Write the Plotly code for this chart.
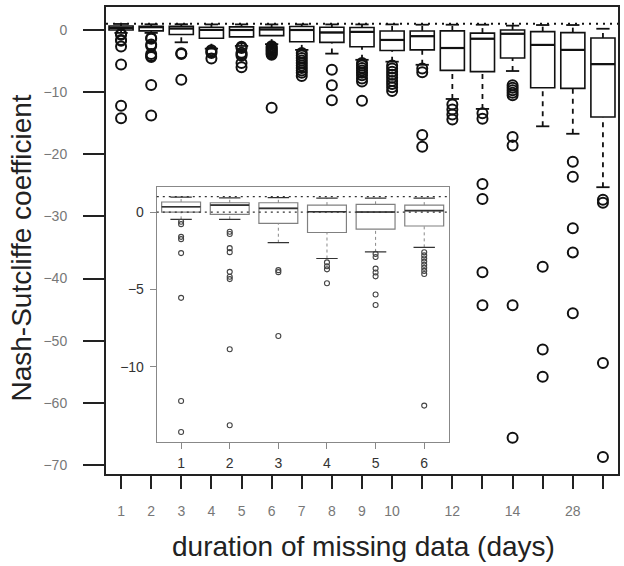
import plotly.graph_objects as go

# Gap-length categories (some labels are left blank on the axis)
positions = list(range(1, 18))
tick_labels = ["1", "2", "3", "4", "5", "6", "7", "8", "9", "10",
               "", "12", "", "14", "", "28", ""]

# Box statistics of the Nash-Sutcliffe coefficient per gap length
upper_whisker = [0.97, 0.92, 0.93, 0.90, 0.90, 0.90, 0.90, 0.90, 0.90, 0.90,
                 0.85, 0.85, 0.85, 0.70, 0.80, 0.80, 0.20]
q3 = [0.65, 0.60, 0.60, 0.45, 0.50, 0.45, 0.55, 0.45, 0.40, -0.16,
      -0.16, -0.15, -0.50, 0.00, -0.27, -0.43, -1.30]
median = [0.34, 0.45, 0.24, 0.02, 0.00, 0.09, 0.00, -0.40, -0.30, -1.60,
          -1.00, -2.90, -1.40, -0.60, -2.40, -3.20, -5.50]
q1 = [0.00, -0.15, -0.73, -1.32, -1.10, -0.90, -1.90, -2.00, -2.70, -3.30,
      -3.20, -6.50, -6.70, -4.50, -9.30, -9.40, -14.00]
lower_whisker = [-0.47, -0.47, -1.98, -3.00, -2.57, -2.28, -3.20, -3.80, -4.80, -5.10,
                 -5.60, -11.10, -12.70, -6.60, -15.50, -16.70, -25.30]
outliers = [
    [-0.63, -0.78, -1.60, -1.75, -2.65, -5.54, -12.2, -14.2],
    [-1.27, -1.42, -2.33, -2.59, -3.86, -4.18, -4.33, -8.86, -13.77],
    [-3.75, -3.88, -8.00],
    [-3.25, -3.50, -3.70, -4.60],
    [-2.70, -2.90, -3.65, -3.90, -4.15, -5.32, -6.00],
    [-2.60, -2.80, -3.00, -3.20, -3.40, -3.60, -3.80, -4.00, -12.5],
    [-3.7, -4.1, -4.5, -4.9, -5.3, -5.7, -6.1, -6.5, -6.9, -7.4],
    [-6.4, -8.9, -11.3],
    [-5.3, -5.7, -6.1, -6.5, -6.9, -7.3, -7.8, -8.3, -11.4],
    [-5.7, -6.2, -6.7, -7.2, -7.7, -8.2, -8.7, -9.2, -9.8],
    [-6.2, -6.8, -16.9, -18.8],
    [-12.0, -12.8, -13.6, -14.4],
    [-13.4, -14.3, -24.8, -27.2, -39.0, -44.3],
    [-8.9, -9.3, -9.7, -10.1, -10.5, -17.2, -18.6, -44.3, -65.6],
    [-38.1, -51.4, -55.8],
    [-21.2, -23.6, -31.9, -35.8, -45.6],
    [-27.3, -27.8, -53.6, -68.7],
]

main_yticks = [0, -10, -20, -30, -40, -50, -60, -70]
inset_count = 6
inset_yticks = [0, -5, -10]
main_ref_levels = [1.0]
inset_ref_levels = [1.0, 0.0]

FONT = "Liberation Sans, Arial, sans-serif"


def whisker_segments(xs, lo, lower_q, upper_q, hi):
    px, py = [], []
    for x, a, b, c, d in zip(xs, lo, lower_q, upper_q, hi):
        px += [x, x, None, x, x, None]
        py += [a, b, None, c, d, None]
    return px, py


def horizontal_ticks(xs, values_list, half):
    px, py = [], []
    for vals in values_list:
        for x, v in zip(xs, vals):
            px += [x - half, x + half, None]
            py += [v, v, None]
    return px, py


def add_boxplot(fig, xs, n, xref, yref, style):
    sl = slice(0, n)
    xs = xs[sl]
    fig.add_trace(go.Box(
        x=xs, q1=q1[sl], median=median[sl], q3=q3[sl],
        lowerfence=q1[sl], upperfence=q3[sl],
        width=0.8, whiskerwidth=0, boxpoints=False,
        fillcolor="white", line=dict(color=style["box"], width=style["box_w"]),
        hoverinfo="skip", xaxis=xref, yaxis=yref))
    wx, wy = whisker_segments(xs, lower_whisker[sl], q1[sl], q3[sl], upper_whisker[sl])
    fig.add_trace(go.Scatter(
        x=wx, y=wy, mode="lines",
        line=dict(color=style["whisk"], width=style["whisk_w"], dash=style["dash"]),
        hoverinfo="skip", xaxis=xref, yaxis=yref))
    sx, sy = horizontal_ticks(xs, [lower_whisker[sl], upper_whisker[sl]], 0.22)
    fig.add_trace(go.Scatter(
        x=sx, y=sy, mode="lines",
        line=dict(color=style["staple"], width=style["staple_w"]),
        hoverinfo="skip", xaxis=xref, yaxis=yref))
    mx, my = horizontal_ticks(xs, [median[sl]], 0.4)
    fig.add_trace(go.Scatter(
        x=mx, y=my, mode="lines",
        line=dict(color=style["med"], width=style["med_w"]),
        hoverinfo="skip", xaxis=xref, yaxis=yref))
    ox = [p for p, pts in zip(xs, outliers[sl]) for _ in pts]
    oy = [v for pts in outliers[sl] for v in pts]
    fig.add_trace(go.Scatter(
        x=ox, y=oy, mode="markers",
        marker=dict(symbol="circle-open", size=style["pt_size"],
                    color=style["pt"], line=dict(width=style["pt_w"], color=style["pt"])),
        hoverinfo="skip", xaxis=xref, yaxis=yref))


fig = go.Figure()

main_style = dict(box="#111", box_w=1.6, whisk="#111", whisk_w=1.8, dash="5px,5px",
                  staple="#111", staple_w=1.8, med="#111", med_w=2.2,
                  pt="#111", pt_size=10, pt_w=2)
inset_style = dict(box="#808080", box_w=1.2, whisk="#888", whisk_w=1.0, dash="3px,3px",
                   staple="#333", staple_w=1.2, med="#333", med_w=1.6,
                   pt="#444", pt_size=5, pt_w=1.1)

add_boxplot(fig, positions, len(positions), "x", "y", main_style)
add_boxplot(fig, positions, inset_count, "x2", "y2", inset_style)

for lvl in main_ref_levels:
    fig.add_shape(type="line", xref="x domain", yref="y", x0=0, x1=1, y0=lvl, y1=lvl,
                  line=dict(color="#111", width=2, dash="2px,5px"))
for lvl in inset_ref_levels:
    fig.add_shape(type="line", xref="x2 domain", yref="y2", x0=0, x1=1, y0=lvl, y1=lvl,
                  line=dict(color="#333", width=1.2, dash="2px,4px"))

fig.update_layout(
    width=624, height=566,
    margin=dict(l=106, r=4, t=7, b=92),
    paper_bgcolor="white", plot_bgcolor="white",
    showlegend=False,
    font=dict(family=FONT),
    xaxis=dict(range=[0.5, 17.5], tickvals=positions, ticktext=tick_labels,
               ticks="outside", ticklen=13, tickwidth=2, tickcolor="#222",
               showline=True, mirror=True, linecolor="#222", linewidth=2,
               showgrid=False, zeroline=False, ticklabelstandoff=10,
               tickfont=dict(size=14, color="#777")),
    yaxis=dict(range=[-71.45, 3.7], tickvals=main_yticks,
               ticks="outside", ticklen=21, tickwidth=2, tickcolor="#222",
               showline=True, mirror=True, linecolor="#222", linewidth=2,
               showgrid=False, zeroline=False, ticklabelstandoff=13,
               tickfont=dict(size=14, color="#777")),
    xaxis2=dict(domain=[0.0992, 0.669], anchor="y2", range=[0.5, 6.5],
                tickvals=positions[:inset_count], ticktext=tick_labels[:inset_count],
                ticks="outside", ticklen=6, tickwidth=1, tickcolor="#888",
                showline=True, mirror=True, linecolor="#888", linewidth=1.2,
                showgrid=False, zeroline=False, ticklabelstandoff=2,
                tickfont=dict(size=14, color="#333")),
    yaxis2=dict(domain=[0.0685, 0.6146], anchor="x2", range=[-14.85, 1.62],
                tickvals=inset_yticks,
                ticks="outside", ticklen=6, tickwidth=1, tickcolor="#888",
                showline=True, mirror=True, linecolor="#888", linewidth=1.2,
                showgrid=False, zeroline=False, ticklabelstandoff=3,
                tickfont=dict(size=14, color="#333")),
)

fig.add_annotation(text="Nash-Sutcliffe coefficient", xref="paper", yref="paper",
                   x=-0.165, y=0.484, xanchor="center", yanchor="middle",
                   textangle=-90, showarrow=False,
                   font=dict(size=28, color="#222", family=FONT))
fig.add_annotation(text="duration of missing data (days)", xref="paper", yref="paper",
                   x=0.502, y=-0.156, xanchor="center", yanchor="middle",
                   showarrow=False, font=dict(size=28, color="#222", family=FONT))

fig.write_html("out.html")
